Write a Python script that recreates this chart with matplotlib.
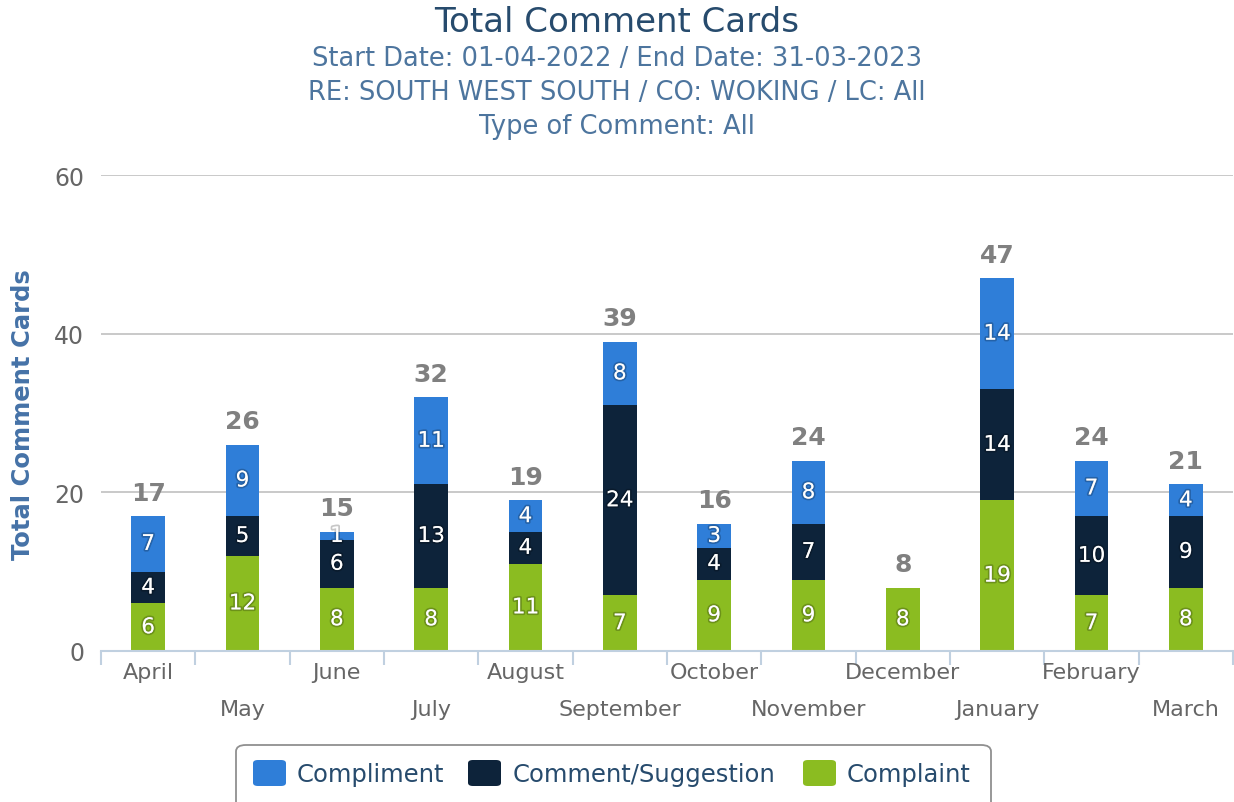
import matplotlib
matplotlib.use("Agg")
import matplotlib.pyplot as plt
import matplotlib.patheffects as pe
from matplotlib.patches import FancyBboxPatch
import numpy as np

months = ["April", "May", "June", "July", "August", "September", "October",
          "November", "December", "January", "February", "March"]
compliment = [7, 9, 1, 11, 4, 8, 3, 8, 0, 14, 7, 4]
comment = [4, 5, 6, 13, 4, 24, 4, 7, 0, 14, 10, 9]
complaint = [6, 12, 8, 8, 11, 7, 9, 9, 8, 19, 7, 8]
series_names = ["Compliment", "Comment/Suggestion", "Complaint"]
colors = ["#2f7ed8", "#0d233a", "#8bbc21"]
yticks = [0, 20, 40, 60]

plt.rcParams['font.family'] = ['DejaVu Sans']

W, H = 1234, 803
fig = plt.figure(figsize=(W / 100, H / 100), dpi=100)
ax = fig.add_axes([101 / W, 1 - 652 / H, (1233 - 101) / W, (652 - 176) / H])

n = len(months)
x = np.arange(n)
bw = 0.36
comp = np.array(complaint)
comm = np.array(comment)
compl = np.array(compliment)

ax.bar(x, comp, bw, color=colors[2], zorder=3)
ax.bar(x, comm, bw, bottom=comp, color=colors[1], zorder=3)
ax.bar(x, compl, bw, bottom=comp + comm, color=colors[0], zorder=3)

shadow = [pe.withStroke(linewidth=2.5, foreground=(0, 0, 0, 0.22))]
for i in range(n):
    segs = [(comp[i], 0), (comm[i], comp[i]), (compl[i], comp[i] + comm[i])]
    for val, base in segs:
        if val > 0:
            ax.text(x[i], base + val / 2, str(val), ha="center", va="center",
                    color="white", fontsize=15.5, zorder=4, path_effects=shadow)
    tot = comp[i] + comm[i] + compl[i]
    ax.annotate(str(tot), (x[i], tot), xytext=(0, 17), textcoords="offset points",
                ha="center", va="center", color="#808080", fontsize=18,
                fontweight="bold", zorder=4)

ax.set_xlim(-0.5, n - 0.5)
ax.set_ylim(0, 60)
ax.set_yticks(yticks)
ax.set_yticklabels([str(v) for v in yticks], color="#666666", fontsize=17)
ax.tick_params(axis="y", length=0, pad=12)
ax.grid(axis="y", color="#c0c0c0", linewidth=1.2, zorder=0)
ax.set_axisbelow(True)

for s in ["top", "right", "left"]:
    ax.spines[s].set_visible(False)
ax.spines["bottom"].set_color("#c0d0e0")
ax.spines["bottom"].set_linewidth(1.5)
ax.spines["bottom"].set_zorder(5)

# category boundary ticks
ax.set_xticks(np.arange(-0.5, n, 1.0))
ax.set_xticklabels([])
ax.tick_params(axis="x", which="major", length=10, color="#c0d0e0", width=1.5)
for i, m in enumerate(months):
    ypix = 673 if i % 2 == 0 else 710
    fig.text((101 + (i + 0.5) * (1132 / n)) / W, 1 - ypix / H, m,
             ha="center", va="center", color="#666666", fontsize=16)

fig.text(23 / W, 1 - 415 / H, "Total Comment Cards", rotation=90,
         ha="center", va="center", color="#4572a7", fontsize=17.5,
         fontweight="bold")

fig.text(0.5, 1 - 22 / H, "Total Comment Cards", ha="center", va="center",
         color="#274b6d", fontsize=24.5)
subs = ["Start Date: 01-04-2022 / End Date: 31-03-2023",
        "RE: SOUTH WEST SOUTH / CO: WOKING / LC: All",
        "Type of Comment: All"]
for yp, s in zip([59, 93, 127], subs):
    fig.text(0.5, 1 - yp / H, s, ha="center", va="center",
             color="#4d759e", fontsize=18.5)

# legend box
box = FancyBboxPatch((236 / W, 1 - 812 / H), (991 - 236) / W, (812 - 746) / H,
                     boxstyle="round,pad=0,rounding_size=0.008",
                     transform=fig.transFigure, facecolor="white",
                     edgecolor="#909090", linewidth=1.3)
fig.patches.append(box)
items = [(253, 297, "Compliment"), (468, 513, "Comment/Suggestion"),
         (803, 847, "Complaint")]
for (sx, tx, name), c in zip(items, colors):
    sq = FancyBboxPatch((sx / W, 1 - 787 / H), 33 / W, 26 / H,
                        boxstyle="round,pad=0,rounding_size=0.004",
                        transform=fig.transFigure, facecolor=c, edgecolor="none")
    fig.patches.append(sq)
    fig.text(tx / W, 1 - 775 / H, name, ha="left", va="center",
             color="#274b6d", fontsize=17.5)

fig.savefig("out.png", dpi=100)
